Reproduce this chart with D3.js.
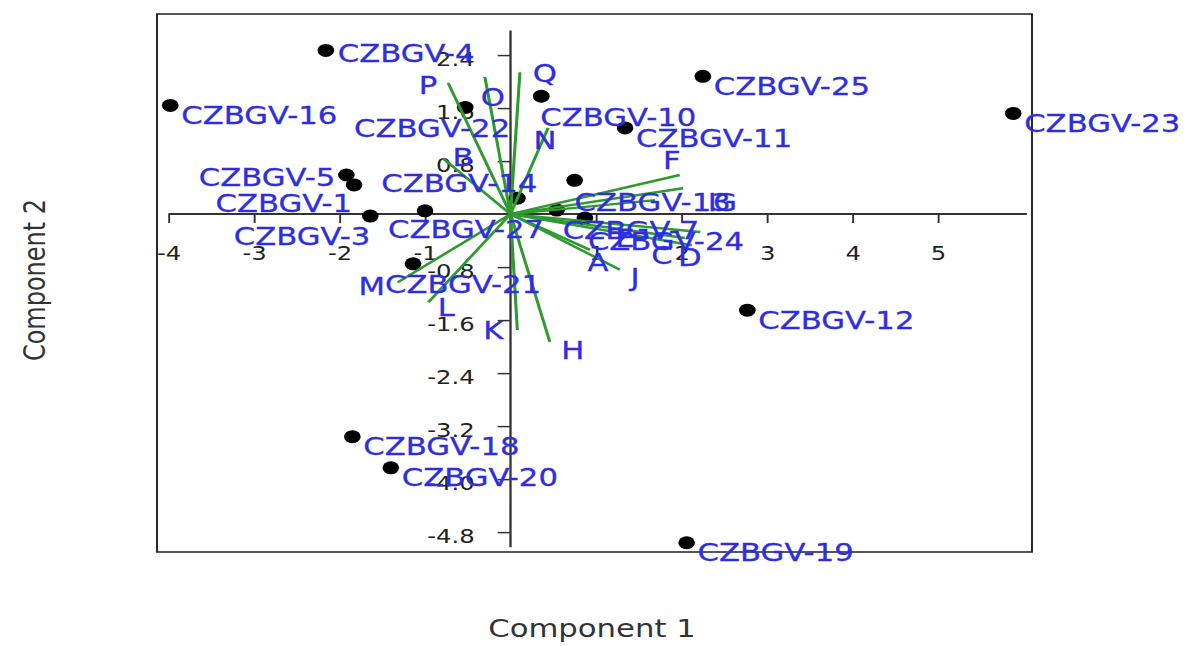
<!DOCTYPE html>
<html>
<head>
    <meta charset="utf-8">
    <script type="text/javascript" src="https://d3js.org/d3.v7.min.js"></script>
    <style>
        body { margin: 0; background: #fff; }
        text { font-family: "DejaVu Sans", Verdana, sans-serif; }
    </style>
</head>
<body>
    <svg width="1195" height="646"></svg>
    <script>
        // genotype scores (Component 1, Component 2)
        const genotypes = ["CZBGV-4", "CZBGV-16", "CZBGV-22", "CZBGV-10", "CZBGV-11", "CZBGV-25",
            "CZBGV-23", "CZBGV-5", "CZBGV-1", "CZBGV-3", "CZBGV-27", "CZBGV-14", "CZBGV-13",
            "CZBGV-7", "CZBGV-24", "CZBGV-21", "CZBGV-12", "CZBGV-18", "CZBGV-20", "CZBGV-19"];
        const pc1 = [-2.16, -3.98, -0.53, 0.36, 1.34, 2.25, 5.88, -1.92, -1.83, -1.64, -1.00, 0.08, 0.75,
            0.54, 0.87, -1.14, 2.77, -1.85, -1.40, 2.06];
        const pc2 = [2.47, 1.64, 1.61, 1.78, 1.30, 2.08, 1.52, 0.59, 0.44, -0.03, 0.05, 0.24, 0.51,
            0.06, -0.06, -0.75, -1.45, -3.36, -3.83, -4.96];

        // trait loadings (biplot rays)
        const traits = ["A", "B", "C", "D", "E", "F", "G", "H", "I", "J", "K", "L", "M", "N", "O", "P", "Q"];
        const load1 = [0.93, -0.79, 2.04, 2.12, 1.69, 1.98, 2.02, 0.46, 2.22, 1.28, 0.08, -0.96, -1.32, 0.44, -0.30, -0.73, 0.11];
        const load2 = [-0.54, 0.84, -0.36, -0.47, 0.21, 0.59, 0.39, -1.93, -0.27, -0.84, -1.75, -1.33, -1.03, 1.30, 2.07, 1.98, 2.14];

        const xTicks = [-4, -3, -2, -1, 1, 2, 3, 4, 5];
        const yTicks = [-4.8, -4.0, -3.2, -2.4, -1.6, -0.8, 0.8, 1.6, 2.4];

        // label placement (screen px offsets from the mark)
        const nameOffset = {
            "CZBGV-4": [12, 3], "CZBGV-22": [45, 21, "end"], "CZBGV-10": [-1, 21],
            "CZBGV-5": [-11, 2, "end"], "CZBGV-1": [-2, 18, "end"], "CZBGV-3": [0, 20, "end"],
            "CZBGV-27": [-37, 19], "CZBGV-14": [20, -15, "end"], "CZBGV-13": [0, 22],
            "CZBGV-7": [6, 20], "CZBGV-24": [3, 23], "CZBGV-21": [-28, 21]
        };
        const traitOffset = {
            A: [8, 12], B: [20, -1], C: [-23, 17], D: [-2, 12], E: [-30, 38], F: [-8, -15], G: [42, 14],
            H: [23, 8], I: [12, -30], J: [15, 8], K: [-24, 0], L: [18, 5], M: [-26, 4], N: [-3, 12],
            O: [8, 20], P: [-20, 2], Q: [25, 1]
        };

        const SX = 1.28; // reference image is stretched horizontally
        const svg = d3.select("svg");
        const g = svg.append("g").attr("transform", `scale(${SX},1)`);

        const x = d3.scaleLinear().domain([-4.135, 6.1]).range([157 / SX, 1032 / SX]);
        const y = d3.scaleLinear().domain([3.02, -5.1]).range([14, 552]);
        const minus = f => v => f(v).replace("\u2212", "-");

        // frame
        g.append("rect")
            .attr("x", x.range()[0]).attr("y", 14)
            .attr("width", x.range()[1] - x.range()[0]).attr("height", 538)
            .attr("fill", "none").attr("stroke", "#111").attr("stroke-width", 1.4);

        // axes through the origin
        const xAxis = g.append("g")
            .attr("transform", `translate(0,${y(0)})`)
            .call(d3.axisBottom(x).tickValues(xTicks).tickSize(9).tickPadding(23).tickFormat(minus(d3.format("d"))));
        const yAxis = g.append("g")
            .attr("transform", `translate(${x(0)},0)`)
            .call(d3.axisLeft(y).tickValues(yTicks).tickSize(10).tickPadding(18).tickFormat(minus(d3.format(".1f"))));

        [xAxis, yAxis].forEach(a => {
            a.select(".domain").remove();
            a.selectAll("line").attr("stroke", "#333").attr("stroke-width", 1.5);
            a.selectAll("text").attr("fill", "#222").style("font-size", "19px");
        });
        yAxis.selectAll("text").attr("dy", "0.55em");

        g.append("line")
            .attr("x1", x(-4)).attr("x2", x(6.04)).attr("y1", y(0)).attr("y2", y(0))
            .attr("stroke", "#333").attr("stroke-width", 2);
        g.append("line")
            .attr("x1", x(0)).attr("x2", x(0)).attr("y1", y(2.77)).attr("y2", y(-5.03))
            .attr("stroke", "#333").attr("stroke-width", 1.8);

        const pts = genotypes.map((n, i) => ({ name: n, x: pc1[i], y: pc2[i] }));
        const rays = traits.map((n, i) => ({ name: n, x: load1[i], y: load2[i] }));

        // genotype points
        g.selectAll(".pt").data(pts).enter()
            .append("circle")
            .attr("class", "pt")
            .attr("cx", d => x(d.x)).attr("cy", d => y(d.y))
            .attr("r", 6.5).attr("fill", "#000");

        // trait rays
        g.selectAll(".ray").data(rays).enter()
            .append("line")
            .attr("class", "ray")
            .attr("x1", x(0)).attr("y1", y(0))
            .attr("x2", d => x(d.x)).attr("y2", d => y(d.y))
            .attr("stroke", "#2f9a2f").attr("stroke-width", 2.4);

        // genotype labels
        g.selectAll(".name").data(pts).enter()
            .append("text")
            .attr("class", "name")
            .attr("x", d => x(d.x) + (nameOffset[d.name] || [11, 10])[0] / SX)
            .attr("y", d => y(d.y) + (nameOffset[d.name] || [11, 10])[1])
            .attr("dy", "0.36em")
            .attr("text-anchor", d => (nameOffset[d.name] || [])[2] || "start")
            .attr("fill", "#2e2ee0").attr("stroke", "#2e2ee0").attr("stroke-width", 0.3)
            .style("font-size", "24px")
            .text(d => d.name);

        // trait labels
        g.selectAll(".trait").data(rays).enter()
            .append("text")
            .attr("class", "trait")
            .attr("x", d => x(d.x) + traitOffset[d.name][0] / SX)
            .attr("y", d => y(d.y) + traitOffset[d.name][1])
            .attr("dy", "0.36em")
            .attr("text-anchor", "middle")
            .attr("fill", "#2e2ee0").attr("stroke", "#2e2ee0").attr("stroke-width", 0.3)
            .style("font-size", "24px")
            .text(d => d.name);

        // axis titles
        g.append("text")
            .attr("x", 592 / SX).attr("y", 637)
            .attr("text-anchor", "middle").attr("fill", "#333")
            .style("font-size", "24px")
            .text("Component 1");
        g.append("text")
            .attr("transform", `translate(${45 / SX},280) rotate(-90)`)
            .attr("text-anchor", "middle").attr("fill", "#333")
            .style("font-size", "24px")
            .text("Component 2");
    </script>
</body>
</html>
